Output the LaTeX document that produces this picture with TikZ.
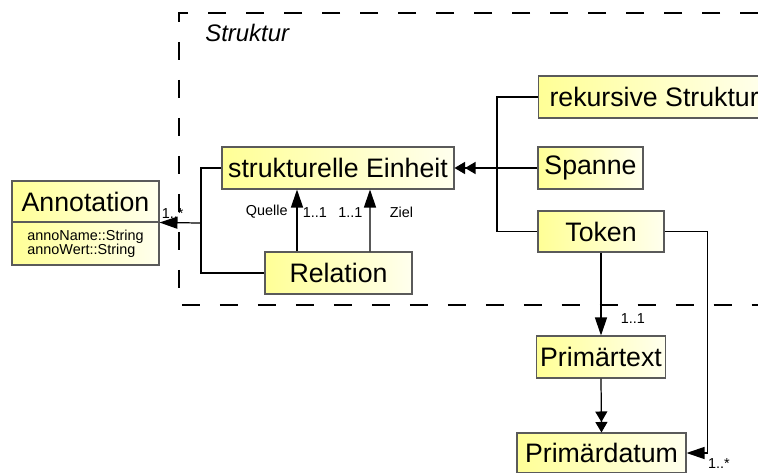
\documentclass[tikz,border=0pt]{standalone}
\usepackage{fontspec}
\setmainfont{Liberation Sans}
\usetikzlibrary{arrows.meta,calc}
\definecolor{clsyellow}{RGB}{255,255,150}
\definecolor{clspale}{RGB}{255,255,238}
\definecolor{clsframe}{RGB}{90,90,90}
\begin{document}
\begin{tikzpicture}[x=0.02cm, y=-0.02cm,
  cls/.style={draw=clsframe, line width=0.6pt, left color=clsyellow, right color=clspale,
    inner sep=2pt, minimum height=0.84cm, font=\fontsize{15.2}{17}\selectfont},
  lab/.style={inner sep=1pt, font=\fontsize{8.2}{9}\selectfont},
  con/.style={line width=0.7pt},
  tri/.style={-{Triangle[length=0.36cm,width=0.24cm]}},
  tritwo/.style={-{Triangle[length=0.21cm,width=0.24cm]Triangle[length=0.21cm,width=0.24cm]}}]
\useasboundingbox (0,0) rectangle (758,473);
% package frame
\draw[line width=0.6pt, dash pattern=on 0.36cm off 0.4cm] (758,13) -- (179,13) -- (179,305) -- (758,305);
\node[anchor=base west, inner sep=0, font=\fontsize{13.6}{16}\selectfont\itshape] (struktitle) at (205,42) {Struktur};
% classes
\node[cls, minimum width=2.94cm, minimum height=0.82cm] (annotitle) at (85.5,201.5) {Annotation};
\node[cls, minimum width=2.94cm, minimum height=0.86cm, align=left, font=\fontsize{8.2}{8}\selectfont] (annoattr) at (85.5,243.5) {annoName::String\\annoWert::String};
\node[cls, minimum width=4.64cm] (struk) at (338,168) {strukturelle Einheit};
\node[cls, minimum width=2.94cm] (rel) at (338.5,273) {Relation};
\node[cls, anchor=west, inner xsep=0.22cm] (rekur) at (538,97) {rekursive Struktur};
\node[cls, minimum width=2.1cm] (spanne) at (590.5,168) {Spanne};
\node[cls, minimum width=2.52cm, minimum height=0.82cm] (token) at (601,231.5) {Token};
\node[cls, minimum width=2.56cm] (ptext) at (601,357) {Primärtext};
\node[cls, minimum width=3.38cm, minimum height=0.8cm] (pdatum) at (601.5,453) {Primärdatum};
% connectors
\coordinate (treejoin) at (497,168);
\coordinate (leftjoin) at (201,223);
\draw[con] (rekur.west) -| (treejoin) |- (token.west);
\draw[con, tritwo] (spanne.west) -- (struk.east);
\draw[con] (struk.west) -| (leftjoin) |- (rel.west);
\draw[con, tri] (leftjoin) -- (annotitle.south east) node[lab, pos=1, anchor=south west, yshift=1pt] (mannot) {1..*};
\draw[con, tri] ($(rel.north)+(-41.5,0)$) -- ($(struk.south)+(-41,0)$)
  node[lab, pos=.635, left, xshift=-4pt] (lquelle) {Quelle}
  node[lab, pos=.635, right, xshift=2pt] (mquelle) {1..1};
\draw[con, tri] ($(rel.north)+(31.5,0)$) -- ($(struk.south)+(32,0)$)
  node[lab, pos=.635, left, xshift=-3pt] (mziel) {1..1}
  node[lab, pos=.635, right, xshift=10pt] (lziel) {Ziel};
\draw[con, tri] (token.south) -- (ptext.north) node[lab, pos=.79, right, xshift=10pt] (mtext) {1..1};
\draw[con, tritwo] (ptext.south) -- (pdatum.north);
\draw[con, tri] (token.east) -- ++(43,0) |- (pdatum.east) node[lab, pos=.5, anchor=north west, xshift=-1pt, yshift=-2pt] (mdatum) {1..*};
\end{tikzpicture}
\end{document}
